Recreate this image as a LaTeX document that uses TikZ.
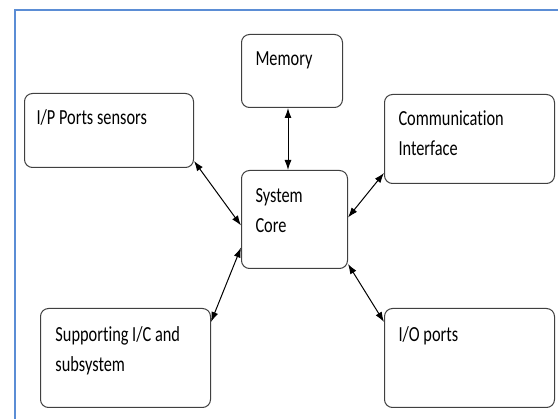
\documentclass[tikz,border=0pt]{standalone}
\usepackage{fontspec}
\setmainfont{Carlito}[FakeStretch=0.76, Ligatures=NoCommon]
\usetikzlibrary{arrows.meta}
\definecolor{frameblue}{RGB}{91,141,213}
\definecolor{boxgray}{RGB}{64,64,64}

\begin{document}
\begin{tikzpicture}
  [
  x=1pt, y=-1pt, line width=1pt,
  font=\fontsize{21.5}{30}\selectfont,
  block/.style={draw=boxgray, rounded corners=8pt, anchor=north west, inner sep=0pt},
  caption/.style={anchor=base west, inner sep=0pt, align=left},
  link/.style={{Latex[length=10pt,width=7pt]}-{Latex[length=10pt,width=7pt]}, line width=1pt}
  ]

\useasboundingbox (0,0) rectangle (558,419);
\draw[line width=1.5pt, frameblue] (558,10) -- (15,10) -- (15,419);

% boxes
\node[block, minimum width=169pt, minimum height=74pt] (ip) at (24,93) {};
\node[block, minimum width=101pt, minimum height=73pt] (mem) at (241,34) {};
\node[block, minimum width=170pt, minimum height=89pt] (comm) at (384,94) {};
\node[block, minimum width=106pt, minimum height=98pt] (core) at (241,170) {};
\node[block, minimum width=170pt, minimum height=99pt] (sup) at (40,308) {};
\node[block, minimum width=170pt, minimum height=99pt] (io) at (384,308) {};

% texts (base west = baseline of the last line)
\node[caption] (iptext) at ([shift={(12pt,-32pt)}]ip.north west) {I/P Ports sensors};
\node[caption] (memtext) at ([shift={(14pt,-32pt)}]mem.north west) {Memory};
\node[caption] (commtext) at ([shift={(14pt,-62pt)}]comm.north west) {Communication\\Interface};
\node[caption] (coretext) at ([shift={(14pt,-63pt)}]core.north west) {System\\Core};
\node[caption] (suptext) at ([shift={(15pt,-64pt)}]sup.north west) {Supporting I/C and\\subsystem};
\node[caption] (iotext) at ([shift={(14pt,-34pt)}]io.north west) {I/O ports};

% links
\draw[link] ([xshift=-4pt]mem.south) -- ([xshift=-4pt]mem.south |- core.north);
\draw[link] ([yshift=7pt]ip.south east) -- ([yshift=-6pt]core.west);
\draw[link] ([yshift=2pt]core.east) -- ([yshift=11pt]comm.south west);
\draw[link] ([yshift=-28pt]core.west) -- ([yshift=-14pt]sup.north east);
\draw[link] ([yshift=5pt]core.south east) -- ([yshift=-14pt]io.north west);

\end{tikzpicture}
\end{document}
